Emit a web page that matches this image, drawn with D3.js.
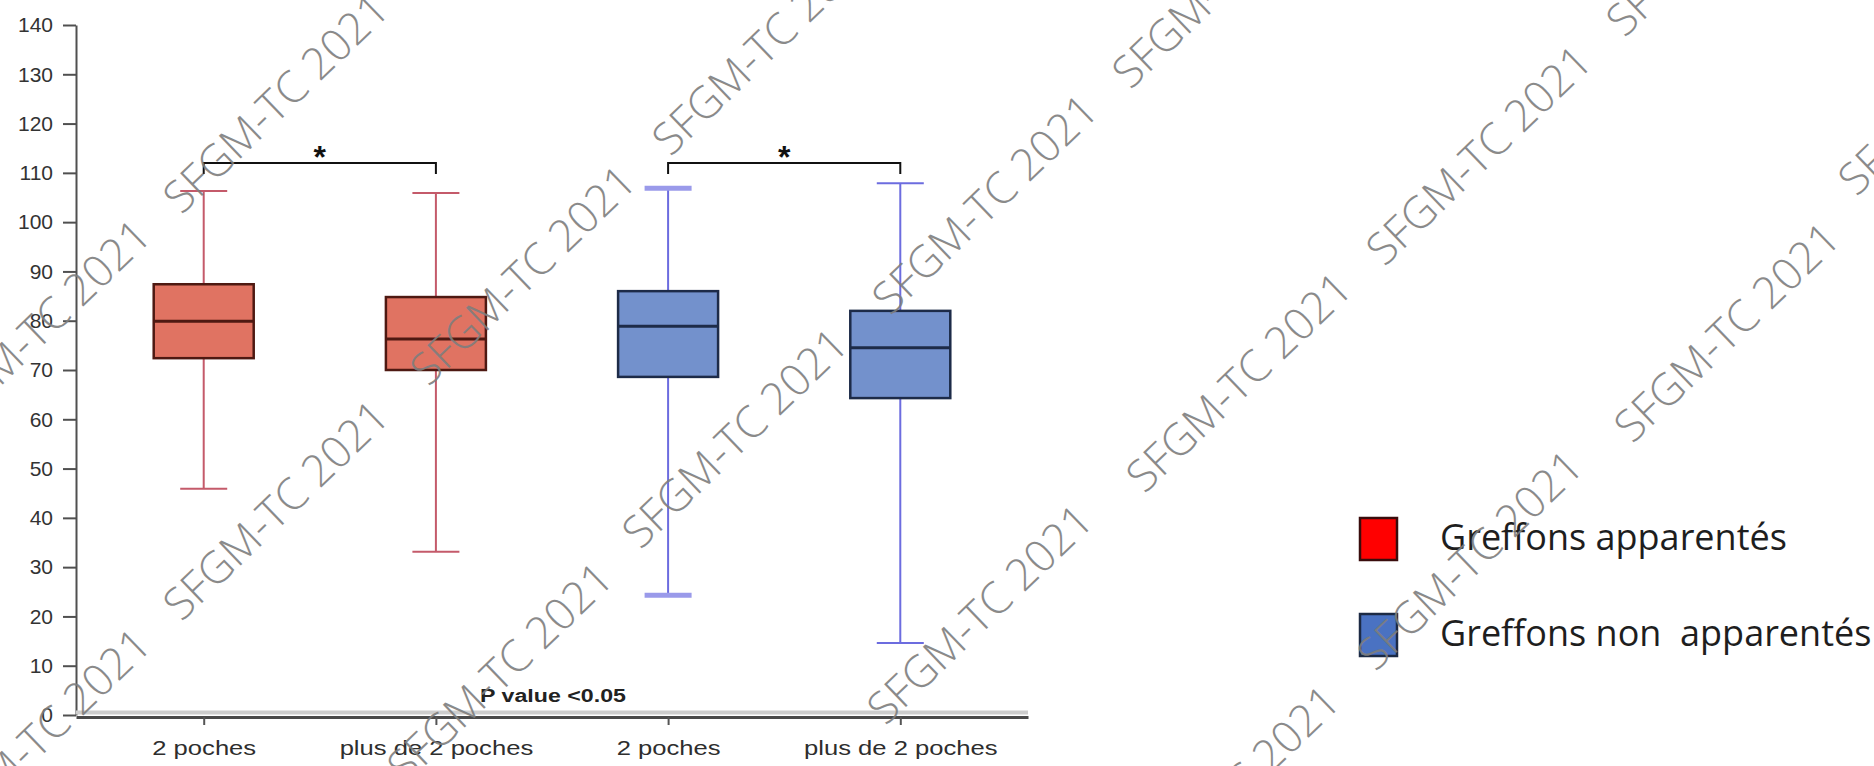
<!DOCTYPE html>
<html>
<head>
<meta charset="utf-8">
<script src="https://cdn.jsdelivr.net/npm/d3@7"></script>
<style>
  body { margin: 0; background: #fff; }
  svg { display: block; }
  .yaxis text { font-family: "Liberation Sans", Arial, sans-serif; font-size: 21px; fill: #333; }
  .xaxis text { font-family: "Liberation Sans", Arial, sans-serif; font-size: 20px; fill: #2e2e2e; }
  .legend text { font-family: "Open Sans", sans-serif; font-size: 36px; fill: #1e1e1e; white-space: pre; }
  .watermark { font-family: "Open Sans", sans-serif; font-size: 44px; font-weight: 300; fill: #7e7e7e; opacity: 0.9; }
</style>
</head>
<body>
<script>

  //Chart values
  var categories = ["2 poches", "plus de 2 poches", "2 poches", "plus de 2 poches"];
  var groups = ["apparentés", "apparentés", "non apparentés", "non apparentés"];
  var whiskerLow = [45.9, 33.1, 24.3, 14.6];
  var q1 = [72.4, 70.0, 68.6, 64.3];
  var medians = [79.9, 76.3, 78.9, 74.5];
  var q3 = [87.4, 84.8, 86.0, 82.0];
  var whiskerHigh = [106.3, 105.9, 106.9, 107.9];
  var yTicks = [0, 10, 20, 30, 40, 50, 60, 70, 80, 90, 100, 110, 120, 130, 140];
  var legendLabels = ["Greffons apparentés", "Greffons non  apparentés"];
  var brackets = [[0, 1], [2, 3]];
  var bracketValue = 112;
  var pValueText = "P value <0.05";
  var watermarkText = "SFGM-TC 2021";

  var width = 1874;
  var height = 766;

  var colors = {
    "apparentés": { fill: "#e07362", line: "#4e1912", whisker: "#c45a6a", legend: "#ff0000" },
    "non apparentés": { fill: "#7391cc", line: "#1d2b48", whisker: "#6c6cdf", legend: "#4a72c2" }
  };

  var boxWidth = 100;
  var capWidth = 47;

  var svg = d3.select("body")
    .append("svg")
    .attr("width", width)
    .attr("height", height);

  var x = d3.scalePoint()
    .domain(d3.range(categories.length))
    .range([76, 1028])
    .padding(0.55);

  var y = d3.scaleLinear()
    .domain([0, 140])
    .range([715, 25]);

  var data = categories.map(function(c, i) {
    return {
      i: i,
      group: groups[i],
      low: whiskerLow[i],
      q1: q1[i],
      med: medians[i],
      q3: q3[i],
      high: whiskerHigh[i]
    };
  });

  //Y axis
  var yAxis = svg.append("g")
    .attr("class", "yaxis")
    .attr("transform", "translate(76,0)")
    .call(d3.axisLeft(y).tickValues(yTicks).tickSize(13).tickSizeOuter(0).tickPadding(10));

  yAxis.selectAll("path, line")
    .attr("stroke", "#505050")
    .attr("stroke-width", 2);

  //X axis, light band above the dark line
  svg.append("line")
    .attr("x1", 76)
    .attr("x2", 1028)
    .attr("y1", 712.5)
    .attr("y2", 712.5)
    .attr("stroke", "#cdcdcd")
    .attr("stroke-width", 4);

  var xAxis = svg.append("g")
    .attr("class", "xaxis")
    .attr("transform", "translate(0,717)")
    .call(d3.axisBottom(x)
      .tickFormat(function(i) { return categories[i]; })
      .tickSize(8)
      .tickSizeOuter(0)
      .tickPadding(16));

  xAxis.select(".domain")
    .attr("stroke", "#4a4a4a")
    .attr("stroke-width", 3);

  xAxis.selectAll(".tick line")
    .attr("stroke", "#555")
    .attr("stroke-width", 2);

  xAxis.selectAll(".tick text")
    .attr("transform", "scale(1.28,1)");

  //Whiskers
  var boxes = svg.append("g").attr("class", "boxes")
    .selectAll("g")
    .data(data)
    .enter()
    .append("g");

  boxes.append("line")
    .attr("x1", function(d) { return x(d.i); })
    .attr("x2", function(d) { return x(d.i); })
    .attr("y1", function(d) { return y(d.low); })
    .attr("y2", function(d) { return y(d.high); })
    .attr("stroke", function(d) { return colors[d.group].whisker; })
    .attr("stroke-width", 2);

  boxes.selectAll(".cap")
    .data(function(d) { return [{ d: d, v: d.low }, { d: d, v: d.high }]; })
    .enter()
    .append("line")
    .attr("class", "cap")
    .attr("x1", function(c) { return x(c.d.i) - capWidth / 2; })
    .attr("x2", function(c) { return x(c.d.i) + capWidth / 2; })
    .attr("y1", function(c) { return y(c.v); })
    .attr("y2", function(c) { return y(c.v); })
    .attr("stroke", function(c) { return c.d.i == 2 ? "#9a9aea" : colors[c.d.group].whisker; })
    .attr("stroke-width", function(c) { return c.d.i == 2 ? 5 : 2; });

  //Boxes
  boxes.append("rect")
    .attr("x", function(d) { return x(d.i) - boxWidth / 2; })
    .attr("y", function(d) { return y(d.q3); })
    .attr("width", boxWidth)
    .attr("height", function(d) { return y(d.q1) - y(d.q3); })
    .attr("fill", function(d) { return colors[d.group].fill; })
    .attr("stroke", function(d) { return colors[d.group].line; })
    .attr("stroke-width", 2.5);

  boxes.append("line")
    .attr("x1", function(d) { return x(d.i) - boxWidth / 2; })
    .attr("x2", function(d) { return x(d.i) + boxWidth / 2; })
    .attr("y1", function(d) { return y(d.med); })
    .attr("y2", function(d) { return y(d.med); })
    .attr("stroke", function(d) { return colors[d.group].line; })
    .attr("stroke-width", 3);

  //Significance brackets
  var by = y(bracketValue);
  var bracket = svg.append("g").selectAll("g")
    .data(brackets)
    .enter()
    .append("g");

  bracket.append("path")
    .attr("d", function(b) {
      return "M" + x(b[0]) + "," + (by + 11) + "V" + by + "H" + x(b[1]) + "V" + (by + 11);
    })
    .attr("fill", "none")
    .attr("stroke", "#111")
    .attr("stroke-width", 2);

  bracket.append("text")
    .attr("x", function(b) { return (x(b[0]) + x(b[1])) / 2; })
    .attr("y", by + 5)
    .attr("text-anchor", "middle")
    .style("font-family", "Liberation Sans, Arial, sans-serif")
    .style("font-size", "32px")
    .style("font-weight", "bold")
    .attr("fill", "#111")
    .text("*");

  //P value note
  svg.append("text")
    .attr("transform", "translate(553,702) scale(1.22,1)")
    .attr("text-anchor", "middle")
    .style("font-family", "Liberation Sans, Arial, sans-serif")
    .style("font-size", "19px")
    .style("font-weight", "bold")
    .attr("fill", "#222")
    .text(pValueText);

  //Legend
  var legend = svg.append("g")
    .attr("class", "legend")
    .selectAll("g")
    .data(legendLabels)
    .enter()
    .append("g")
    .attr("transform", function(d, i) { return "translate(1360," + (518 + i * 96) + ")"; });

  legend.append("rect")
    .attr("width", 37)
    .attr("height", 42)
    .attr("fill", function(d, i) { return colors[groups[i * 2]].legend; })
    .attr("stroke", function(d, i) { return i == 0 ? "#3a0c0c" : "#1c2a44"; })
    .attr("stroke-width", 2.5);

  legend.append("text")
    .attr("x", 80)
    .attr("y", 32)
    .text(function(d) { return d; });

  //Watermark, repeated over the whole picture
  var watermarks = [
    [276, 103], [38, 329], [523, 275], [765, 45], [985, 204], [735, 438],
    [1225, -22], [1719, -74], [1479, 155], [1239, 382], [1727, 332], [1951, 85],
    [276, 510], [38, 738], [500, 672], [980, 614], [1470, 560], [1227, 795]
  ];

  svg.append("g").selectAll("text")
    .data(watermarks)
    .enter()
    .append("text")
    .attr("class", "watermark")
    .attr("transform", function(d) { return "translate(" + d[0] + "," + d[1] + ") rotate(-44)"; })
    .attr("text-anchor", "middle")
    .attr("dy", "0.35em")
    .text(watermarkText);

</script>
</body>
</html>
